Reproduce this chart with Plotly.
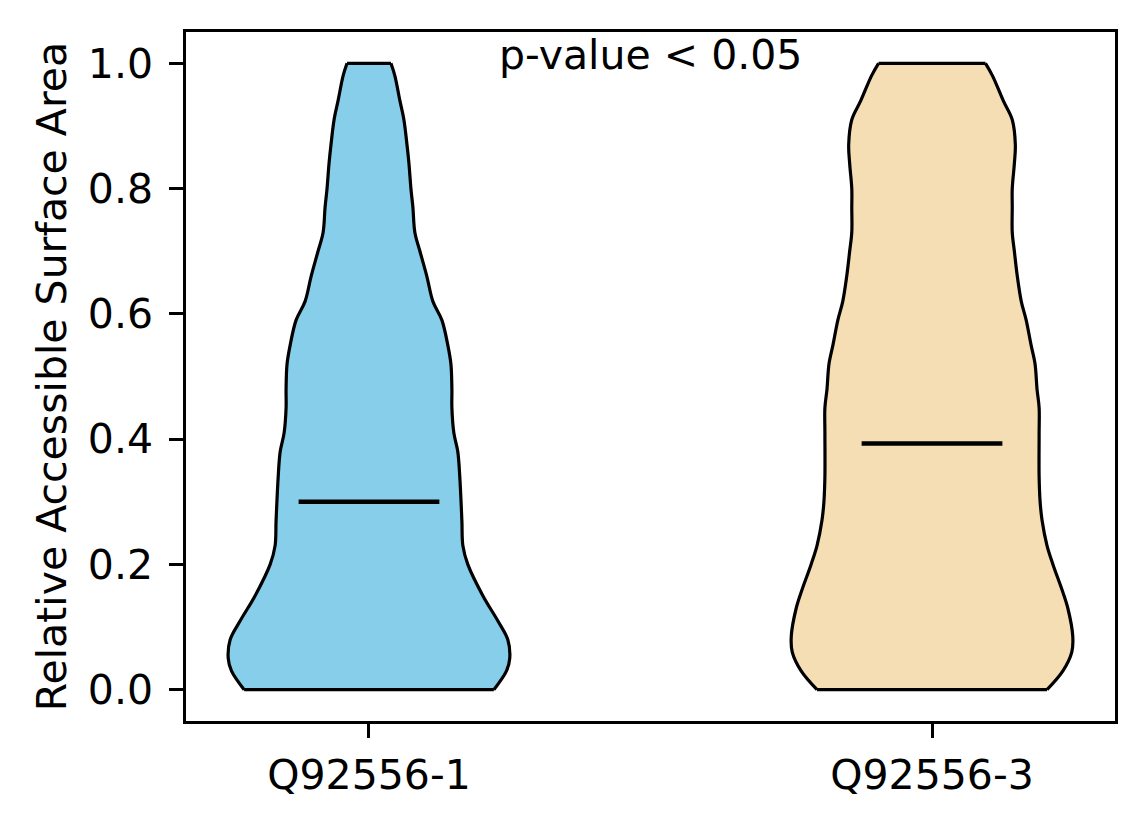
import plotly.graph_objects as go

# categories and medians
groups = ["Q92556-1", "Q92556-3"]
medians = [0.300, 0.393]
colors = ["#87CEEB", "#F5DEB3"]

# violin profiles: y level -> relative density (max = 1)
y_q1 = [0.00, 0.03, 0.05, 0.08, 0.11, 0.15, 0.20, 0.23, 0.27, 0.34, 0.38, 0.41, 0.45,
        0.48, 0.52, 0.55, 0.59, 0.62, 0.66, 0.70, 0.73, 0.77, 0.80, 0.84, 0.87, 0.91,
        0.94, 0.98, 1.00]
dens_q1 = [0.887, 0.977, 1.000, 0.986, 0.915, 0.809, 0.702, 0.667, 0.660, 0.645, 0.631,
           0.603, 0.589, 0.589, 0.582, 0.560, 0.518, 0.454, 0.411, 0.362, 0.326, 0.312,
           0.298, 0.284, 0.270, 0.248, 0.220, 0.184, 0.156]

y_q3 = [0.00, 0.03, 0.06, 0.085, 0.13, 0.16, 0.20, 0.23, 0.27, 0.30, 0.34, 0.41, 0.45,
        0.48, 0.52, 0.55, 0.59, 0.62, 0.66, 0.70, 0.73, 0.77, 0.80, 0.84, 0.87, 0.91,
        0.94, 0.98, 1.00]
dens_q3 = [0.817, 0.930, 0.993, 1.000, 0.965, 0.923, 0.859, 0.817, 0.782, 0.768, 0.761,
           0.761, 0.761, 0.746, 0.732, 0.704, 0.669, 0.634, 0.606, 0.585, 0.570, 0.570,
           0.570, 0.585, 0.592, 0.570, 0.507, 0.430, 0.380]

profiles = [(y_q1, dens_q1), (y_q3, dens_q3)]
half_width = 0.25  # violin width 0.5

fig = go.Figure()

for i, (ys, ds) in enumerate(profiles):
    pos = i + 1
    xs_right = [pos + d * half_width for d in ds]
    xs_left = [pos - d * half_width for d in ds]
    # filled body
    fig.add_trace(go.Scatter(
        x=xs_right + xs_left[::-1], y=ys + ys[::-1], mode="lines", fill="toself",
        fillcolor=colors[i], line=dict(width=0),
        showlegend=False, hoverinfo="skip"))
    # smooth outline on both sides
    for xs in (xs_right, xs_left):
        fig.add_trace(go.Scatter(
            x=xs, y=ys, mode="lines",
            line=dict(color="black", width=3.2, shape="spline", smoothing=1.0),
            showlegend=False, hoverinfo="skip"))
    # flat ends at min and max
    for k in (0, -1):
        fig.add_trace(go.Scatter(
            x=[xs_left[k], xs_right[k]], y=[ys[k], ys[k]], mode="lines",
            line=dict(color="black", width=3.2), showlegend=False, hoverinfo="skip"))
    # median line
    fig.add_trace(go.Scatter(
        x=[pos - half_width / 2, pos + half_width / 2], y=[medians[i], medians[i]],
        mode="lines", line=dict(color="black", width=4.5), showlegend=False, hoverinfo="skip"))

fig.add_annotation(x=1.5, y=1.0, text="p-value < 0.05", showarrow=False,
                   xanchor="center", yanchor="bottom", yshift=-18,
                   font=dict(size=41, color="black"))

fig.update_layout(
    width=1144, height=824,
    margin=dict(l=178, r=37, t=24, b=111),
    plot_bgcolor="white", paper_bgcolor="white",
    font=dict(family="DejaVu Sans", size=41, color="black"),
)
fig.update_xaxes(
    range=[0.675, 2.325], tickvals=[1, 2], ticktext=groups,
    showline=True, linecolor="black", linewidth=2.5, mirror=True,
    ticks="outside", ticklen=14, tickwidth=2.5, tickcolor="black",
    showgrid=False, zeroline=False, ticklabelstandoff=2,
)
fig.update_yaxes(
    range=[-0.05, 1.05], tickvals=[0, 0.2, 0.4, 0.6, 0.8, 1.0],
    tickformat=".1f",
    title=dict(text="Relative Accessible Surface Area", standoff=9,
               font=dict(size=41, family="DejaVu Sans", color="black")),
    showline=True, linecolor="black", linewidth=2.5, mirror=True,
    ticks="outside", ticklen=14, tickwidth=2.5, tickcolor="black",
    showgrid=False, zeroline=False, ticklabelstandoff=8,
)

fig.write_html("out.html")
